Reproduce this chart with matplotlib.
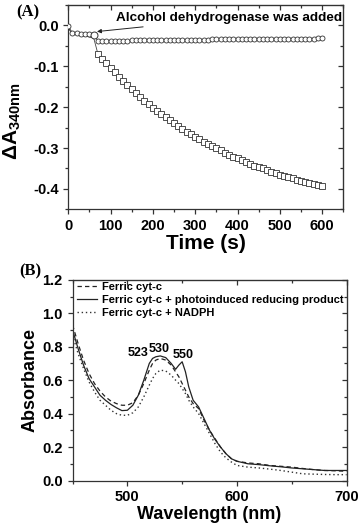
import matplotlib
matplotlib.use("Agg")
import matplotlib.pyplot as plt
from matplotlib.ticker import MultipleLocator

plt.rcParams["font.family"] = ["Liberation Sans", "DejaVu Sans"]
plt.rcParams["font.weight"] = "bold"
plt.rcParams["mathtext.fontset"] = "custom"
plt.rcParams["mathtext.rm"] = "Liberation Sans"
plt.rcParams["mathtext.bf"] = "Liberation Sans:bold"

# ---- panel A: delta A340 vs time ----
t_circ = list(range(0, 610, 10))
a_circ = [-0.001, -0.018, -0.019, -0.020, -0.021, -0.022, -0.024,
          -0.037, -0.037, -0.037, -0.037, -0.037, -0.037, -0.037, -0.037, -0.036,
          -0.036, -0.036, -0.036, -0.036, -0.036, -0.036, -0.036, -0.036, -0.036,
          -0.035, -0.035, -0.035, -0.035, -0.035, -0.035, -0.035, -0.035, -0.035,
          -0.034, -0.034, -0.034, -0.034, -0.034, -0.034, -0.034, -0.034, -0.034,
          -0.033, -0.033, -0.033, -0.033, -0.033, -0.033, -0.033, -0.033, -0.033,
          -0.032, -0.032, -0.032, -0.032, -0.032, -0.032, -0.032, -0.031, -0.031]

t_sq = list(range(0, 610, 10))
a_sq = [-0.006, -0.021, -0.022, -0.024, -0.026, -0.028, -0.030,
        -0.069, -0.081, -0.093, -0.104, -0.115, -0.126, -0.136, -0.146, -0.156,
        -0.166, -0.175, -0.184, -0.192, -0.201, -0.209, -0.217, -0.225, -0.232,
        -0.239, -0.246, -0.253, -0.260, -0.266, -0.272, -0.278, -0.284, -0.290,
        -0.295, -0.301, -0.306, -0.311, -0.316, -0.321, -0.325, -0.330, -0.334,
        -0.338, -0.343, -0.347, -0.350, -0.354, -0.358, -0.361, -0.365, -0.368,
        -0.371, -0.374, -0.377, -0.380, -0.383, -0.386, -0.389, -0.391, -0.394]

# ---- panel B: spectra ----
wl = [450, 455, 460, 465, 470, 475, 480, 485, 490, 495, 500, 505, 510, 515,
      520, 523, 526, 530, 535, 540, 544, 547, 550, 553, 556, 560, 565, 570,
      575, 580, 585, 590, 595, 600, 610, 620, 630, 640, 650, 660, 670, 680,
      690, 700]
ferric = [0.93, 0.82, 0.72, 0.64, 0.58, 0.535, 0.50, 0.475, 0.46, 0.45, 0.45,
          0.465, 0.51, 0.58, 0.66, 0.70, 0.72, 0.73, 0.72, 0.69, 0.65, 0.62,
          0.58, 0.54, 0.50, 0.46, 0.43, 0.36, 0.30, 0.25, 0.20, 0.16, 0.13,
          0.115, 0.105, 0.10, 0.09, 0.085, 0.08, 0.072, 0.065, 0.06, 0.058, 0.055]
reduced = [0.90, 0.79, 0.69, 0.61, 0.56, 0.51, 0.48, 0.455, 0.435, 0.418, 0.42,
           0.45, 0.51, 0.60, 0.70, 0.73, 0.74, 0.745, 0.735, 0.70, 0.665, 0.69,
           0.71, 0.65, 0.56, 0.48, 0.44, 0.37, 0.30, 0.245, 0.20, 0.16, 0.13,
           0.115, 0.10, 0.095, 0.088, 0.082, 0.075, 0.07, 0.065, 0.06, 0.06, 0.06]
nadph = [0.87, 0.76, 0.67, 0.59, 0.53, 0.48, 0.45, 0.42, 0.40, 0.39, 0.39,
         0.405, 0.44, 0.50, 0.57, 0.61, 0.64, 0.66, 0.655, 0.63, 0.60, 0.58,
         0.55, 0.52, 0.48, 0.44, 0.40, 0.34, 0.28, 0.22, 0.17, 0.135, 0.11,
         0.09, 0.08, 0.075, 0.068, 0.06, 0.05, 0.04, 0.038, 0.036, 0.035, 0.035]
legend_labels = ["Ferric cyt-c",
                 "Ferric cyt-c + photoinduced reducing product",
                 "Ferric cyt-c + NADPH"]
peak_x = [510, 529, 550.5]
peak_y = [0.762, 0.786, 0.752]
peak_text = ["523", "530", "550"]

fig = plt.figure(figsize=(3.61, 5.26), dpi=100)
axA = fig.add_axes([0.189, 0.602, 0.762, 0.3885])
axB = fig.add_axes([0.201, 0.0865, 0.759, 0.3815])

line_col = "#222222"


def style_axes(ax, fs):
    for s in ax.spines.values():
        s.set_linewidth(0.9)
        s.set_color("#333333")
    ax.tick_params(which="both", direction="out", top=False, right=False,
                   labelsize=fs, width=0.9, colors="#333333", labelcolor="black")
    ax.tick_params(which="major", length=3.5)
    ax.tick_params(which="minor", length=2)
    for lab in ax.get_xticklabels() + ax.get_yticklabels():
        lab.set_fontweight("bold")
    # inward ticks on top and right
    sx = ax.secondary_xaxis("top")
    sx.tick_params(which="both", direction="in", labeltop=False, width=0.9,
                   colors="#333333")
    sx.tick_params(which="major", length=3.5)
    sx.tick_params(which="minor", length=2)
    sx.xaxis.set_major_locator(ax.xaxis.get_major_locator())
    sx.xaxis.set_minor_locator(ax.xaxis.get_minor_locator())
    sy = ax.secondary_yaxis("right")
    sy.tick_params(which="both", direction="in", labelright=False, width=0.9,
                   colors="#333333")
    sy.tick_params(which="major", length=3.5)
    sy.tick_params(which="minor", length=2)
    sy.yaxis.set_major_locator(ax.yaxis.get_major_locator())
    sy.yaxis.set_minor_locator(ax.yaxis.get_minor_locator())


# panel A
axA.plot(t_sq, a_sq, color="#444444", lw=0.6, marker="s", ms=4.0,
         mfc="white", mec="#333333", mew=0.6, zorder=2, markevery=list(range(7, len(t_sq))))
axA.plot(t_sq[:7], a_sq[:7], color="#444444", lw=0.6, zorder=2)
axA.plot(t_circ, a_circ, color="#444444", lw=0.5, marker="o", ms=3.6,
         mfc="white", mec="#333333", mew=0.6, zorder=3)
axA.plot(t_circ[6], a_circ[6], marker="o", ms=5.0, mfc="white",
         mec="#333333", mew=0.7, zorder=4)
axA.annotate("Alcohol dehydrogenase was added", xy=(68, -0.015),
             xytext=(113, 0.018), ha="left", va="center", fontsize=9.7,
             fontweight="bold",
             arrowprops=dict(arrowstyle="-|>", lw=0.7, color="#222222",
                             mutation_scale=6, shrinkA=0, shrinkB=0))
axA.set_xlim(0, 650)
axA.set_ylim(-0.45, 0.05)
axA.xaxis.set_major_locator(MultipleLocator(100))
axA.xaxis.set_minor_locator(MultipleLocator(50))
axA.yaxis.set_major_locator(MultipleLocator(0.1))
axA.yaxis.set_minor_locator(MultipleLocator(0.05))
axA.set_yticks([0.0, -0.1, -0.2, -0.3, -0.4])
axA.set_yticklabels(["0.0", "-0.1", "-0.2", "-0.3", "-0.4"])
axA.set_xlabel("Time (s)", fontsize=15, fontweight="bold", labelpad=1)
axA.set_ylabel(r"$\Delta\mathbf{A}_{\mathbf{340nm}}$", fontsize=15)
axA.yaxis.set_label_coords(-0.165, 0.43)
style_axes(axA, 10.5)

# panel B
axB.plot(wl, ferric, color=line_col, lw=0.9, ls=(0, (3.5, 2.5)), label=legend_labels[0])
axB.plot(wl, reduced, color=line_col, lw=0.9, ls="-", label=legend_labels[1])
axB.plot(wl, nadph, color="#333333", lw=1.0, ls=(0, (1, 2)), label=legend_labels[2])
for px, py, pt in zip(peak_x, peak_y, peak_text):
    axB.text(px, py, pt, ha="center", va="center", fontsize=9, fontweight="bold")
axB.set_xlim(450, 700)
axB.set_ylim(0, 1.2)
axB.xaxis.set_major_locator(MultipleLocator(100))
axB.xaxis.set_minor_locator(MultipleLocator(50))
axB.yaxis.set_major_locator(MultipleLocator(0.2))
axB.yaxis.set_minor_locator(MultipleLocator(0.1))
axB.yaxis.set_major_formatter(matplotlib.ticker.FormatStrFormatter("%.1f"))
axB.set_xlabel("Wavelength (nm)", fontsize=13, fontweight="bold", labelpad=1)
axB.set_ylabel("Absorbance", fontsize=13, fontweight="bold", labelpad=3)
leg = axB.legend(loc="upper left", bbox_to_anchor=(0.0146, 0.99), frameon=False,
                 borderpad=0, borderaxespad=0, handlelength=1.8,
                 handletextpad=0.45, labelspacing=0.28,
                 prop={"size": 8, "weight": "bold"})
style_axes(axB, 10.5)

fig.text(0.078, 0.977, "(A)", fontsize=12, fontweight="bold",
         family="Liberation Serif", ha="center", va="center")
fig.text(0.083, 0.484, "(B)", fontsize=12, fontweight="bold",
         family="Liberation Serif", ha="center", va="center")

fig.savefig("out.png", dpi=100)
